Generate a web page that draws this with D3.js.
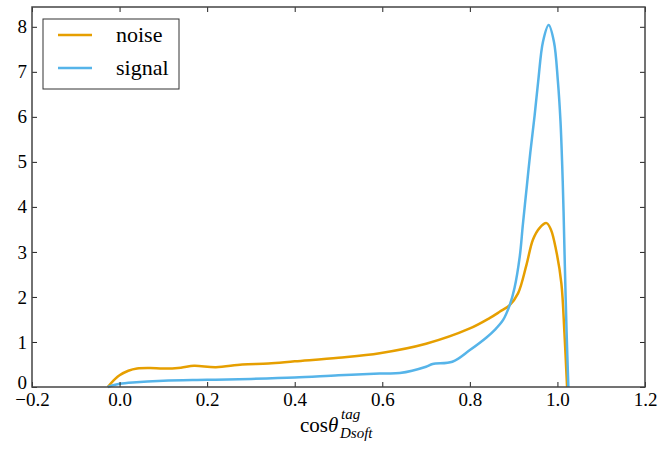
<!DOCTYPE html>
<html>
<head>
<meta charset="utf-8">
<script src="https://cdn.jsdelivr.net/npm/d3@7"></script>
<style>
  body { margin: 0; background: #fff; }
  svg text { font-family: "Times New Roman", Times, "Liberation Serif", "DejaVu Serif", serif; }
</style>
</head>
<body>
<svg id="chart" width="659" height="450"></svg>
<script>
// density curves
var noiseX = [-0.027, -0.01, 0.0, 0.02, 0.04, 0.07, 0.1, 0.14, 0.17, 0.22, 0.28, 0.34, 0.4, 0.5, 0.594, 0.7, 0.8, 0.845, 0.868, 0.891, 0.91, 0.929, 0.944, 0.959, 0.975, 0.985, 0.997, 1.009, 1.016, 1.022];
var noiseY = [0, 0.18, 0.26, 0.36, 0.41, 0.42, 0.41, 0.43, 0.47, 0.44, 0.50, 0.52, 0.57, 0.65, 0.75, 0.96, 1.30, 1.53, 1.67, 1.82, 2.08, 2.7, 3.27, 3.53, 3.64, 3.5, 3.04, 2.30, 1.2, 0];

var signalX = [-0.027, -0.01, 0.0, 0.03, 0.1, 0.2, 0.3, 0.4, 0.5, 0.594, 0.64, 0.7, 0.715, 0.76, 0.8, 0.838, 0.857, 0.876, 0.891, 0.902, 0.914, 0.921, 0.93, 0.938, 0.948, 0.956, 0.967, 0.98, 0.992, 1.001, 1.007, 1.011, 1.014, 1.017, 1.021, 1.025];
var signalY = [0, 0.05, 0.07, 0.1, 0.14, 0.16, 0.18, 0.21, 0.26, 0.30, 0.31, 0.45, 0.51, 0.56, 0.82, 1.1, 1.27, 1.49, 1.82, 2.2, 2.9, 3.6, 4.45, 5.2, 6.04, 6.78, 7.67, 8.04, 7.67, 6.8, 5.9, 4.9, 3.9, 2.67, 1.2, 0];

var xTicks = [-0.2, 0.0, 0.2, 0.4, 0.6, 0.8, 1.0, 1.2];
var yTicks = [0, 1, 2, 3, 4, 5, 6, 7, 8];
var seriesNames = ["noise", "signal"];
var seriesColors = ["#E69F00", "#56B4E9"];

var serif = '"Times New Roman", Times, "Liberation Serif", "DejaVu Serif", serif';

var svg = d3.select("#chart").attr("font-family", serif);
var margin = {top: 7, right: 14, bottom: 63, left: 32};
var width = 659 - margin.left - margin.right;
var height = 450 - margin.top - margin.bottom;

var x = d3.scaleLinear().domain([-0.2, 1.2]).range([0, width]);
var y = d3.scaleLinear().domain([0, 8.44]).range([height, 0]);

var g = svg.append("g").attr("transform", "translate(" + margin.left + "," + margin.top + ")");

var line = d3.line()
    .x(function(d) { return x(d[0]); })
    .y(function(d) { return y(d[1]); })
    .curve(d3.curveCatmullRom.alpha(0.5));

var series = [d3.zip(noiseX, noiseY), d3.zip(signalX, signalY)];

g.selectAll(".curve")
  .data(series)
  .enter().append("path")
  .attr("class", "curve")
  .attr("fill", "none")
  .attr("stroke", function(d, i) { return seriesColors[i]; })
  .attr("stroke-width", 2.5)
  .attr("d", line);

// axes, ticks pointing inward on all four sides
var fmt = d3.format(".1f");
var axB = g.append("g").attr("transform", "translate(0," + height + ")")
  .call(d3.axisBottom(x).tickValues(xTicks).tickFormat(fmt).tickSizeInner(-5).tickSizeOuter(0).tickPadding(6));
var axT = g.append("g")
  .call(d3.axisTop(x).tickValues(xTicks).tickFormat("").tickSizeInner(-5).tickSizeOuter(0));
var axL = g.append("g")
  .call(d3.axisLeft(y).tickValues(yTicks).tickFormat(d3.format("d")).tickSizeInner(-5).tickSizeOuter(0).tickPadding(5));
var axR = g.append("g").attr("transform", "translate(" + width + ",0)")
  .call(d3.axisRight(y).tickValues(yTicks).tickFormat("").tickSizeInner(-5).tickSizeOuter(0));

[axB, axT, axL, axR].forEach(function(a) {
  a.attr("font-family", serif).attr("font-size", 19);
  a.select(".domain").remove();
  a.selectAll("line").attr("stroke", "#222").attr("stroke-width", 1);
  a.selectAll("text").attr("fill", "#000");
});
// keep the "0" clear of the "-0.2" below it
axL.selectAll("text").filter(function(d) { return d === 0; }).attr("dy", "0.1em");

g.append("rect")
  .attr("width", width).attr("height", height)
  .attr("fill", "none").attr("stroke", "#444").attr("stroke-width", 1.5);

// legend
var lg = svg.append("g").attr("transform", "translate(43,19)");
lg.append("rect").attr("width", 136).attr("height", 70)
  .attr("fill", "#fff").attr("stroke", "#333").attr("stroke-width", 1);
seriesNames.forEach(function(n, i) {
  lg.append("line").attr("x1", 15).attr("x2", 49)
    .attr("y1", 16 + i * 33).attr("y2", 16 + i * 33)
    .attr("stroke", seriesColors[i]).attr("stroke-width", 2.5);
  lg.append("text").attr("x", 73).attr("y", 16 + i * 33).attr("dy", "0.32em")
    .attr("font-size", 22).text(n);
});

// x label: cos theta with tag / Dsoft
var xl = svg.append("text").attr("x", 300).attr("y", 432).attr("font-size", 21);
xl.append("tspan").text("cos");
xl.append("tspan").attr("font-style", "italic").text("θ");
svg.append("text").attr("x", 341).attr("y", 419).attr("font-size", 15)
  .attr("font-style", "italic").text("tag");
svg.append("text").attr("x", 340).attr("y", 438).attr("font-size", 15)
  .attr("font-style", "italic").text("Dsoft");
</script>
</body>
</html>
